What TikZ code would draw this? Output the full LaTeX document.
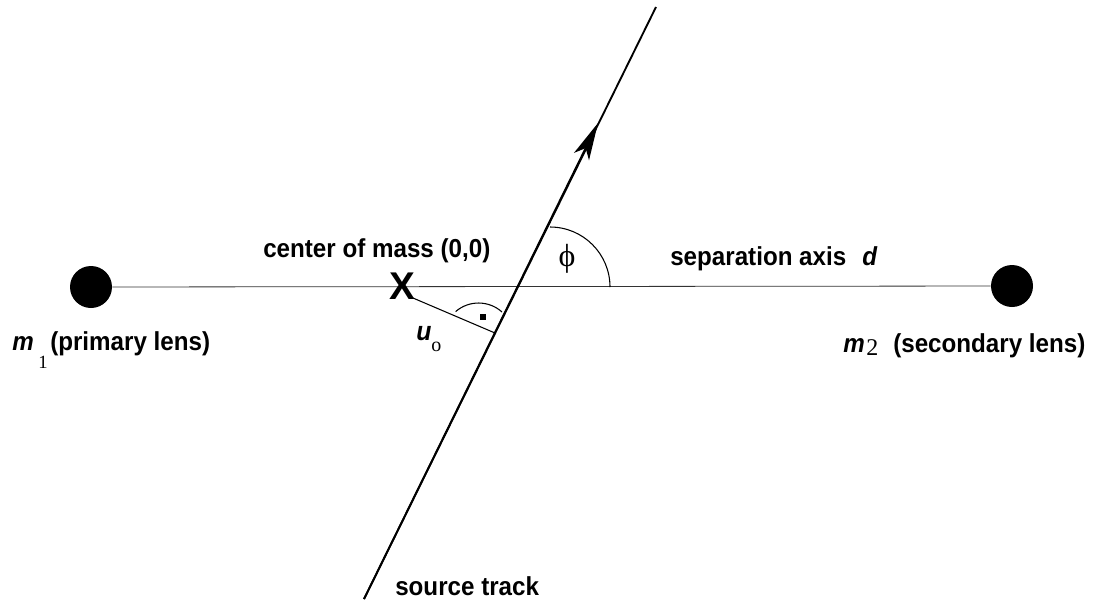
\documentclass[tikz,border=0pt]{standalone}
\usepackage{fontspec}
\setmainfont{Liberation Sans}
\newfontfamily\labfont{Liberation Sans}[FakeStretch=0.93]
\newfontfamily\serifsub{Liberation Serif}
\usetikzlibrary{arrows.meta}
\tikzset{
  lab/.style={font=\labfont\fontsize{19.5}{21}\selectfont\bfseries, inner sep=0pt, anchor=base west},
  labit/.style={font=\labfont\fontsize{19.5}{21}\selectfont\bfseries\itshape, inner sep=0pt, anchor=base west},
  sub/.style={font=\fontsize{14}{16}\selectfont\serifsub, inner sep=0pt, anchor=base west},
  lens/.style={circle, fill=black, inner sep=0pt, minimum size=31.5pt},
  axisline/.style={line width=0.6pt, black!80},
  track/.style={line width=1.4pt, black},
  thinline/.style={line width=0.8pt, black},
}
\begin{document}
\begin{tikzpicture}[x=0.75pt, y=-0.75pt]
\useasboundingbox (0,0) rectangle (1103,611);
% lenses and separation axis
\node[lens] (m1) at (91,287) {};
\node[lens] (m2) at (1012,286) {};
\draw[axisline] (m1) -- (m2);
% source track
\coordinate (tb) at (364,599);
\coordinate (tt) at (656,7);
\coordinate (atip) at (598,123);
\draw[track] (tb) -- (tt);
\draw[track, -{Stealth[length=28pt, width=12.5pt, inset=7pt]}] (tb) -- (atip);
% centre of mass
\node[font=\fontsize{29}{30}\selectfont\bfseries, inner sep=0pt] (cm) at (402,286) {X};
\coordinate (ustart) at (413,298);
\coordinate (foot) at (495,333);
\draw[thinline] (ustart) -- (foot);
% right angle mark
\coordinate (ra) at (502,312);
\draw[thinline] (ra) arc[start angle=-48, end angle=-131, radius=35];
\node[fill=black, inner sep=0pt, minimum size=5pt] (rdot) at (483,317) {};
% angle phi
\coordinate (pa) at (610,287);
\draw[thinline] (pa) arc[start angle=0, end angle=-90, radius=60];
\node[font=\fontsize{24}{26}\selectfont\serifsub, inner sep=0pt] (phi) at (567,259) {ϕ};
% labels
\node[lab] (cmlab) at (263,257) {center of mass (0,0)};
\node[lab] (seplab) at (670,265) {separation axis};
\node[labit] (dlab) at (862,265) {d};
\node[lab] (srclab) at (395,595) {source track};
\node[labit] (m1m) at (12,350) {m};
\node[sub] (m1s) at (38,368) {1};
\node[lab] (m1lab) at (50,350) {(primary lens)};
\node[labit] (m2m) at (843,352) {m};
\node[sub, font=\fontsize{18}{20}\selectfont\serifsub] (m2s) at (866,355) {2};
\node[lab] (m2lab) at (893,352) {(secondary lens)};
\node[labit, font=\labfont\fontsize{20}{22}\selectfont\bfseries\itshape] (ulab) at (416,340) {u};
\node[sub, font=\fontsize{15}{16}\selectfont\serifsub] (usub) at (431,351) {o};
\end{tikzpicture}
\end{document}
